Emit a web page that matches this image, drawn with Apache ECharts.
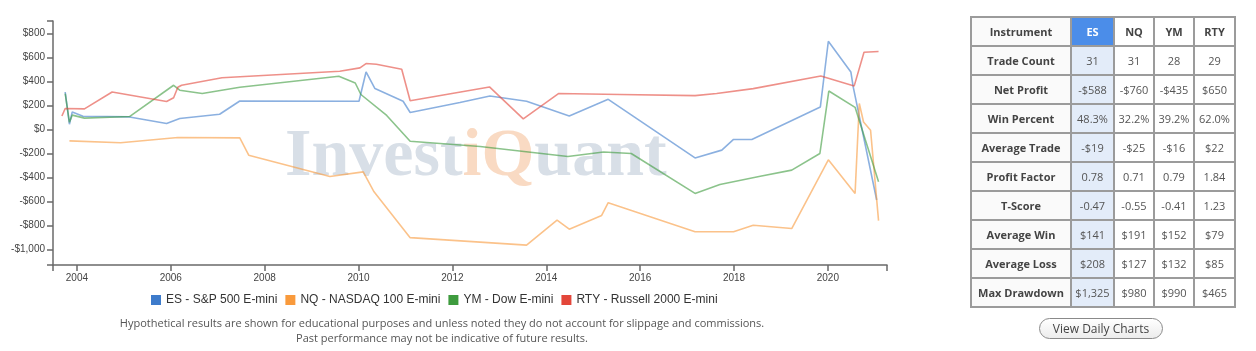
<!DOCTYPE html>
<html>
<head>
<meta charset="utf-8">
<script src="https://cdn.jsdelivr.net/npm/echarts@6/dist/echarts.min.js"></script>
<style>
  html, body { margin:0; padding:0; background:#fff; }
  #wrap { position:relative; width:1256px; height:351px; overflow:hidden; }
  #chart { position:absolute; left:0; top:0; width:1256px; height:351px; }
  #stats { position:absolute; left:970px; top:16px; width:264px; height:289px;
           border-collapse:collapse; font-family:"Open Sans", sans-serif; font-size:11px; table-layout:fixed; }
  #stats td { border:2px solid #9b9b9b; text-align:center; padding:0; color:#555; height:27px; }
  #stats td.lab { font-weight:700; color:#444; background:#fafafa; }
  #stats td.es { background:#e3ecf9; }
  #stats tr.head td.es { background:#4b8de9; color:#fff; font-weight:700; }
  #btn { position:absolute; left:1039px; top:318px; width:122px; height:19px; border:1.5px solid #8a8a8a;
         border-radius:11px; background:linear-gradient(#ffffff,#ececec); font-family:"Open Sans", sans-serif;
         font-size:12px; color:#444; text-align:center; line-height:19px; }
</style>
</head>
<body>
<div id="wrap">
  <div id="chart"></div>
  <table id="stats"></table>
  <div id="btn">View Daily Charts</div>
</div>
<script>
// ---------- data ----------
const esX = [2003.75, 2003.84, 2003.90, 2004.13, 2005.12, 2005.91, 2006.19, 2007.04, 2007.47, 2010.01, 2010.16, 2010.35, 2010.95, 2011.10, 2012.16, 2012.80, 2013.58, 2014.49, 2015.32, 2017.17, 2017.74, 2017.99, 2018.38, 2019.84, 2020.01, 2020.49, 2020.54, 2021.04];
const esY = [313, 44, 147, 111, 105, 50, 92, 127, 238, 236, 480, 342, 236, 142, 225, 280, 236, 113, 252, -237, -172, -83, -83, 188, 736, 480, 355, -588];

const nqX = [2003.84, 2004.93, 2006.15, 2007.47, 2007.66, 2009.39, 2010.10, 2010.33, 2011.10, 2013.58, 2014.23, 2014.49, 2015.18, 2015.32, 2017.17, 2017.99, 2018.41, 2019.23, 2020.01, 2020.58, 2020.67, 2020.76, 2020.91, 2021.08];
const nqY = [-95, -110, -67, -70, -214, -392, -353, -520, -902, -964, -756, -831, -717, -610, -853, -853, -798, -826, -253, -533, 217, 63, -6, -760];

const ymX = [2003.75, 2003.84, 2003.90, 2004.16, 2005.12, 2006.06, 2006.19, 2006.67, 2007.47, 2009.58, 2009.93, 2010.05, 2010.60, 2011.10, 2012.59, 2014.46, 2015.22, 2015.81, 2017.17, 2017.70, 2018.56, 2019.23, 2019.83, 2020.02, 2020.58, 2021.08];
const ymY = [300, 60, 120, 95, 108, 369, 328, 300, 352, 444, 388, 292, 117, -98, -142, -225, -187, -200, -533, -458, -390, -339, -200, 321, 185, -435];

const rtyX = [2003.68, 2003.75, 2004.16, 2004.75, 2005.91, 2006.06, 2006.15, 2006.23, 2007.09, 2009.60, 2010.03, 2010.16, 2010.38, 2010.92, 2011.10, 2012.79, 2013.51, 2014.26, 2015.57, 2017.17, 2017.63, 2018.41, 2019.85, 2020.56, 2020.77, 2021.08];
const rtyY = [113, 175, 172, 313, 233, 265, 352, 369, 432, 486, 514, 550, 544, 502, 240, 355, 89, 300, 292, 283, 300, 341, 446, 362, 645, 650];

const seriesNames = ['ES - S&P 500 E-mini', 'NQ - NASDAQ 100 E-mini', 'YM - Dow E-mini', 'RTY - Russell 2000 E-mini'];
const seriesColors = ['#3d7bcb', '#f99a3c', '#3e9b3e', '#e3463a'];

const xTickYears = [2004, 2006, 2008, 2010, 2012, 2014, 2016, 2018, 2020];
const yTickValues = [-1000, -800, -600, -400, -200, 0, 200, 400, 600, 800];
const xMin = 2003.49, xMax = 2021.26;
const yMin = -1130, yMax = 905;

const tableHeader = ['Instrument', 'ES', 'NQ', 'YM', 'RTY'];
const tableLabels = ['Trade Count', 'Net Profit', 'Win Percent', 'Average Trade', 'Profit Factor', 'T-Score', 'Average Win', 'Average Loss', 'Max Drawdown'];
const esStats  = ['31', '-$588', '48.3%', '-$19', '0.78', '-0.47', '$141', '$208', '$1,325'];
const nqStats  = ['31', '-$760', '32.2%', '-$25', '0.71', '-0.55', '$191', '$127', '$980'];
const ymStats  = ['28', '-$435', '39.2%', '-$16', '0.79', '-0.41', '$152', '$132', '$990'];
const rtyStats = ['29', '$650', '62.0%', '$22', '1.84', '1.23', '$79', '$85', '$465'];

const footnote1 = 'Hypothetical results are shown for educational purposes and unless noted they do not account for slippage and commissions.';
const footnote2 = 'Past performance may not be indicative of future results.';

// ---------- table ----------
(function buildTable() {
  const t = document.getElementById('stats');
  let html = '<colgroup><col style="width:100px"><col style="width:43px"><col style="width:40px"><col style="width:40px"><col style="width:41px"></colgroup>';
  html += '<tr class="head">' + tableHeader.map((h, i) =>
    '<td class="' + (i === 0 ? 'lab' : (i === 1 ? 'es' : '')) + '"' + (i > 1 ? ' style="font-weight:700;color:#444"' : '') + '>' + h + '</td>').join('') + '</tr>';
  tableLabels.forEach((lab, r) => {
    html += '<tr><td class="lab">' + lab + '</td><td class="es">' + esStats[r] + '</td><td>' + nqStats[r] +
      '</td><td>' + ymStats[r] + '</td><td>' + rtyStats[r] + '</td></tr>';
  });
  t.innerHTML = html;
})();

// ---------- chart ----------
function pairs(xs, ys) { return xs.map((x, i) => [x, ys[i]]); }
function fmtMoney(v) {
  const a = Math.abs(v).toLocaleString('en-US');
  return (v < 0 ? '-$' : '$') + a;
}
const allX = [esX, nqX, ymX, rtyX];
const allY = [esY, nqY, ymY, rtyY];

const chart = echarts.init(document.getElementById('chart'), null, { renderer: 'canvas' });
const axisColor = '#6a6a6a';
chart.setOption({
  animation: false,
  backgroundColor: '#fff',
  grid: { left: 53, right: 369, top: 21, bottom: 86 },
  xAxis: {
    type: 'value', min: xMin, max: xMax,
    splitLine: { show: false },
    axisLine: { onZero: false, lineStyle: { color: axisColor, width: 1.5 } },
    axisTick: { customValues: [xMin].concat(xTickYears, [xMax]), length: 6, lineStyle: { color: axisColor, width: 1.5 } },
    axisLabel: { customValues: xTickYears, formatter: v => String(Math.round(v)), color: '#444', fontSize: 10,
                 fontFamily: 'Liberation Sans', margin: 8 }
  },
  yAxis: {
    type: 'value', min: yMin, max: yMax,
    splitLine: { show: false },
    axisLine: { show: true, onZero: false, lineStyle: { color: axisColor, width: 1.5 } },
    axisTick: { show: true, customValues: [yMin].concat(yTickValues, [yMax]), length: 6, lineStyle: { color: axisColor, width: 1.5 } },
    axisLabel: { customValues: yTickValues, formatter: fmtMoney, color: '#444', fontSize: 10,
                 fontFamily: 'Liberation Sans', margin: 8 }
  },
  legend: {
    left: 146, top: 289, icon: 'rect', itemWidth: 10, itemHeight: 10, itemGap: 8,
    textStyle: { fontSize: 12, color: '#333', fontFamily: 'Liberation Sans' },
    data: seriesNames
  },
  graphic: [
    {
      type: 'text', x: 285, y: 123, z: -10, silent: true,
      style: {
        text: '{a|Invest}{b|iQ}{a|uant}',
        rich: {
          a: { fontFamily: 'Liberation Serif', fontWeight: 'bold', fontSize: 68, fill: '#d8dfe7' },
          b: { fontFamily: 'Liberation Serif', fontWeight: 'bold', fontSize: 68, fill: '#f9dac3' }
        }
      }
    },
    { type: 'text', x: 442, y: 318, z: 10, silent: true,
      style: { text: footnote1, fontFamily: 'Open Sans', fontSize: 11, fill: '#555',
               textAlign: 'center', align: 'center', textVerticalAlign: 'top', verticalAlign: 'top' } },
    { type: 'text', x: 442, y: 333, z: 10, silent: true,
      style: { text: footnote2, fontFamily: 'Open Sans', fontSize: 11, fill: '#555',
               textAlign: 'center', align: 'center', textVerticalAlign: 'top', verticalAlign: 'top' } }
  ],
  series: seriesNames.map((name, i) => ({
    name: name, type: 'line', showSymbol: false, symbol: 'none', smooth: false,
    itemStyle: { color: seriesColors[i] },
    lineStyle: { color: seriesColors[i], width: 1.6, opacity: 0.6 },
    emphasis: { disabled: true },
    data: pairs(allX[i], allY[i])
  }))
});
</script>
</body>
</html>
